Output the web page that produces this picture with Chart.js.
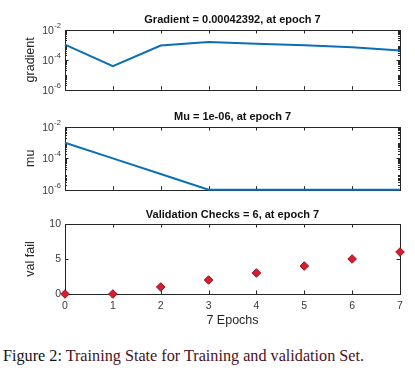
<!DOCTYPE html>
<html>
<head>
<meta charset="utf-8">
<script src="https://cdn.jsdelivr.net/npm/chart.js@4"></script>
<style>
  html, body { margin: 0; padding: 0; background: #fff; }
  #wrap { position: relative; width: 415px; height: 377px; overflow: hidden; background: #fff; }
  .cv { position: absolute; left: 0; }
  #caption { position: absolute; left: 3px; top: 347px; font-family: "Liberation Serif", "DejaVu Serif", serif; font-size: 16.2px; color: #4a1222; white-space: nowrap; }
  #caption b { font-weight: normal; color: #111; }
</style>
</head>
<body>
<div id="wrap">
  <canvas id="c1" class="cv" style="top:0px" width="415" height="100"></canvas>
  <canvas id="c2" class="cv" style="top:100px" width="415" height="100"></canvas>
  <canvas id="c3" class="cv" style="top:200px" width="415" height="135"></canvas>
  <div id="caption"><b>Figure 2:</b> Training State for Training and validation Set.</div>
</div>
<script>
// ---- data ----
const epochs = [0, 1, 2, 3, 4, 5, 6, 7];
const gradientValues = [1.05e-3, 3.8e-5, 9.2e-4, 1.55e-3, 1.2e-3, 9.5e-4, 7.0e-4, 4.2392e-4];
const muValues = [1e-3, 1e-4, 1e-5, 1e-6, 1e-6, 1e-6, 1e-6, 1e-6];
const valFailValues = [0, 0, 1, 2, 3, 4, 5, 6];
const logTicks = [1e-6, 1e-4, 1e-2];
const valTicks = [0, 5, 10];
const epochTicks = [0, 1, 2, 3, 4, 5, 6, 7];
const titles = ['Gradient = 0.00042392, at epoch 7', 'Mu = 1e-06, at epoch 7', 'Validation Checks = 6, at epoch 7'];
const yTitles = ['gradient', 'mu', 'val fail'];
const xTitle = '7 Epochs';

// ---- styling helpers ----
const LINE = '#0a6fb5';
const AXIS = '#262626';
const TICKTXT = '#3a3a3a';
const FONT = 'Liberation Sans, Arial, sans-serif';
const pts = (ys) => epochs.map((x, i) => ({x: x, y: ys[i]}));

// box + inward ticks (MATLAB-like) and power-of-ten labels
const boxPlugin = {
  id: 'box',
  beforeDatasetsDraw(chart) {
    const {ctx, chartArea: a, scales} = chart;
    const xs = scales.x, ys = scales.y;
    const opt = chart.options.plugins.box;
    ctx.save();
    ctx.strokeStyle = AXIS;
    ctx.lineWidth = 1;
    ctx.strokeRect(Math.round(a.left) + 0.5, Math.round(a.top) + 0.5, Math.round(a.right - a.left), Math.round(a.bottom - a.top));
    ctx.beginPath();
    epochTicks.forEach(t => {
      const px = Math.round(xs.getPixelForValue(t)) + 0.5;
      ctx.moveTo(px, a.bottom); ctx.lineTo(px, a.bottom - 3.5);
      ctx.moveTo(px, a.top); ctx.lineTo(px, a.top + 3.5);
    });
    opt.yTicks.forEach(t => {
      const py = Math.round(ys.getPixelForValue(t)) + 0.5;
      ctx.moveTo(a.left, py); ctx.lineTo(a.left + 3.5, py);
      ctx.moveTo(a.right, py); ctx.lineTo(a.right - 3.5, py);
    });
    if (opt.minor) {
      for (let e = -6; e < -2; e++) {
        for (let m = 2; m <= 9; m++) {
          const py = Math.round(ys.getPixelForValue(m * Math.pow(10, e))) + 0.5;
          ctx.moveTo(a.left, py); ctx.lineTo(a.left + 2, py);
          ctx.moveTo(a.right, py); ctx.lineTo(a.right - 2, py);
        }
      }
    }
    ctx.stroke();
    if (opt.minor) {
      ctx.fillStyle = TICKTXT;
      ctx.textAlign = 'right';
      ctx.textBaseline = 'middle';
      opt.yTicks.forEach(t => {
        const py = ys.getPixelForValue(t);
        const ex = String(Math.round(Math.log10(t)));
        ctx.font = '7.5px ' + FONT;
        const w = ctx.measureText(ex).width;
        const xr = a.left - 4;
        ctx.fillText(ex, xr, py - 4);
        ctx.font = '10.5px ' + FONT;
        ctx.fillText('10', xr - w - 0.5, py + 1);
      });
    }
    ctx.restore();
  }
};

function titleOpts(text, top, bottom) {
  return { display: true, fullSize: false, text: text, color: '#111', font: {family: FONT, size: 11, weight: 'bold'}, padding: {top: top, bottom: bottom} };
}
function yScale(type, title, ticksArr, fmt) {
  return {
    type: type,
    min: ticksArr[0], max: ticksArr[ticksArr.length - 1],
    grid: {display: false, drawTicks: false},
    border: {display: false},
    afterBuildTicks: sc => { sc.ticks = ticksArr.map(v => ({value: v})); },
    afterFit: sc => { sc.width = 65; },
    ticks: { color: TICKTXT, padding: 4, font: {family: FONT, size: 10.5}, callback: fmt },
    title: { display: true, text: title, color: AXIS, font: {family: FONT, size: 12.5}, padding: {top: 23, bottom: 0} }
  };
}
function xHidden() {
  return { type: 'linear', min: 0, max: 7, display: false };
}
const common = {
  responsive: false, animation: false, devicePixelRatio: 1,
  plugins: { legend: {display: false}, tooltip: {enabled: false} }
};

// ---- chart 1: gradient ----
new Chart(document.getElementById('c1'), {
  type: 'line',
  data: { datasets: [{ data: pts(gradientValues), borderColor: LINE, borderWidth: 2, pointRadius: 0, tension: 0, clip: false }] },
  options: Object.assign({}, common, {
    layout: {padding: {left: 0, right: 15, top: 0, bottom: 1}},
    scales: { x: xHidden(), y: yScale('logarithmic', yTitles[0], logTicks, () => '') },
    plugins: Object.assign({}, common.plugins, { title: titleOpts(titles[0], 13.4, 3.4), box: {yTicks: logTicks, minor: true} })
  }),
  plugins: [boxPlugin]
});

// ---- chart 2: mu ----
new Chart(document.getElementById('c2'), {
  type: 'line',
  data: { datasets: [{ data: pts(muValues), borderColor: LINE, borderWidth: 2, pointRadius: 0, tension: 0, clip: false }] },
  options: Object.assign({}, common, {
    layout: {padding: {left: 0, right: 15, top: 0, bottom: 3}},
    scales: { x: xHidden(), y: yScale('logarithmic', yTitles[1], logTicks, () => '') },
    plugins: Object.assign({}, common.plugins, { title: titleOpts(titles[1], 10.4, 3.4), box: {yTicks: logTicks, minor: true} })
  }),
  plugins: [boxPlugin]
});

// ---- chart 3: validation checks ----
new Chart(document.getElementById('c3'), {
  type: 'scatter',
  data: { datasets: [{ data: pts(valFailValues), showLine: false, pointStyle: 'rectRot', pointRadius: 4.3, backgroundColor: '#d81e2c', borderColor: '#9c1020', borderWidth: 1, clip: false }] },
  options: Object.assign({}, common, {
    layout: {padding: {left: 0, right: 15, top: 0, bottom: 0}},
    scales: {
      x: {
        type: 'linear', min: 0, max: 7,
        grid: {display: false, drawTicks: false},
        border: {display: false},
        afterBuildTicks: sc => { sc.ticks = epochTicks.map(v => ({value: v})); },
        afterFit: sc => { sc.height = 41; },
        ticks: { color: TICKTXT, padding: 6, font: {family: FONT, size: 10.5}, maxRotation: 0 },
        title: { display: true, text: xTitle, color: AXIS, font: {family: FONT, size: 12.5}, padding: {top: 0, bottom: 6.5} }
      },
      y: yScale('linear', yTitles[2], valTicks, v => String(v))
    },
    plugins: Object.assign({}, common.plugins, { title: titleOpts(titles[2], 8.4, 2.4), box: {yTicks: valTicks, minor: false} })
  }),
  plugins: [boxPlugin]
});
</script>
</body>
</html>
